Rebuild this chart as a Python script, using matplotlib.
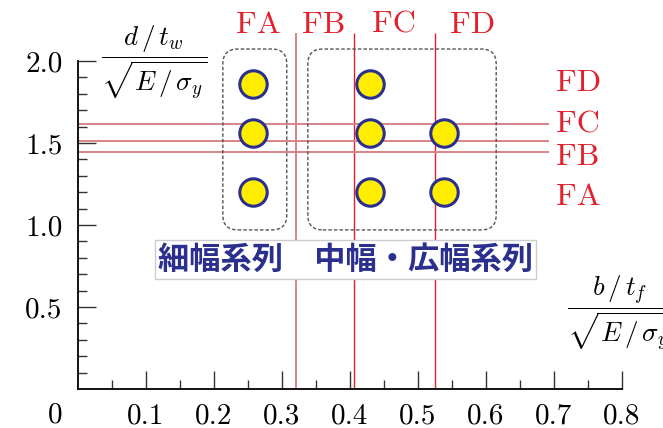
import matplotlib

matplotlib.use("Agg")
import matplotlib.pyplot as plt  # noqa: E402
from matplotlib.patches import FancyBboxPatch  # noqa: E402

# specimen points (b/tf normalised, d/tw normalised)
pt_x = [0.257, 0.257, 0.257, 0.430, 0.430, 0.430, 0.538, 0.538]
pt_y = [1.858, 1.563, 1.199, 1.858, 1.563, 1.199, 1.563, 1.199]

# class boundaries
v_bounds = [0.321, 0.406, 0.525]   # flange FA|FB, FB|FC, FC|FD
h_bounds = [1.447, 1.514, 1.614]   # web FA|FB, FB|FC, FC|FD

top_labels = ["FA", "FB", "FC", "FD"]
top_label_x = [0.265, 0.362, 0.465, 0.580]
right_labels = ["FD", "FC", "FB", "FA"]
right_label_y = [1.866, 1.610, 1.415, 1.170]

xticks = [0.1, 0.2, 0.3, 0.4, 0.5, 0.6, 0.7, 0.8]
yticks = [0.5, 1.0, 1.5, 2.0]

# dashed groups: (x0, x1, y0, y1)
groups = [(0.213, 0.307, 0.970, 2.073), (0.338, 0.615, 0.970, 2.073)]

RED = "#e3202b"
PINK = "#d8838a"
NAVY = "#2b2f8e"

plt.rcParams["mathtext.fontset"] = "cm"
plt.rcParams["axes.unicode_minus"] = False

fig = plt.figure(figsize=(6.63, 4.28), dpi=100)
ax = fig.add_axes([78 / 663, 39 / 428, 544 / 663, 328 / 428])
ax.set_xlim(0, 0.8)
ax.set_ylim(0, 2.0)
for s in ("top", "right"):
    ax.spines[s].set_visible(False)
for s in ("left", "bottom"):
    ax.spines[s].set_linewidth(1.3)

ax.set_xticks(xticks)
ax.set_xticklabels([f"{v:.1f}" for v in xticks])
ax.set_yticks(yticks)
ax.set_yticklabels([f"{v:.1f}" for v in yticks])
ax.set_xticks([0.05 + 0.1 * i for i in range(8)], minor=True)
ax.set_yticks([0.1 * i for i in range(1, 20) if i % 5], minor=True)
ax.tick_params(which="both", direction="in", color="#333333", width=1.0)
ax.tick_params(which="major", length=13, labelsize=21)
ax.tick_params(which="minor", length=6.5)
ax.tick_params(axis="y", pad=11)
ax.tick_params(axis="x", pad=10)
for lab in ax.get_xticklabels() + ax.get_yticklabels():
    lab.set_family("cmr10")
ax.text(-0.034, -0.16, "0", fontsize=21, family="cmr10", ha="center", va="center")

# boundary lines
ax.vlines(v_bounds[0], 0, 2.17, color=PINK, lw=1.4, clip_on=False, zorder=1)
ax.vlines(v_bounds[1:], 0, 2.17, color=RED, lw=1.0, clip_on=False, zorder=1)
ax.hlines(h_bounds, 0, 0.693, color=PINK, lw=1.4, zorder=1)

# dashed group outlines
for x0, x1, y0, y1 in groups:
    box = FancyBboxPatch((x0, y0), x1 - x0, y1 - y0,
                         boxstyle="round,pad=0,rounding_size=0.022",
                         mutation_aspect=680 / 164, fill=False,
                         ec="#555555", lw=1.0, ls=(0, (2.5, 1.5)),
                         clip_on=False, zorder=2)
    ax.add_patch(box)

ax.scatter(pt_x, pt_y, s=390, c="#ffee00", edgecolors=NAVY, linewidths=2.2,
           clip_on=False, zorder=5)

for lab, x in zip(top_labels, top_label_x):
    ax.text(x, 2.22, lab, color=RED, fontsize=23, family="cmr10",
            ha="center", va="center", clip_on=False)
for lab, y in zip(right_labels, right_label_y):
    ax.text(0.703, y, lab, color=RED, fontsize=23, family="cmr10",
            ha="left", va="center", clip_on=False)

ax.text(0.393, 0.79, "細幅系列　中幅・広幅系列", color=NAVY, fontsize=22.5,
        fontweight="bold", family=["Noto Sans CJK JP", "DejaVu Sans"],
        ha="center", va="center", zorder=6,
        bbox=dict(boxstyle="square,pad=0.1", fc="white", ec="#cccccc", lw=1.0))

ax.text(0.113, 1.99, r"$\dfrac{d\,/\,t_w}{\sqrt{E\,/\,\sigma_y}}$", fontsize=19.5,
        ha="center", va="center", clip_on=False)
ax.text(0.797, 0.46, r"$\dfrac{b\,/\,t_f}{\sqrt{E\,/\,\sigma_y}}$", fontsize=19.5,
        ha="center", va="center", clip_on=False)

fig.savefig("out.png", dpi=100)
